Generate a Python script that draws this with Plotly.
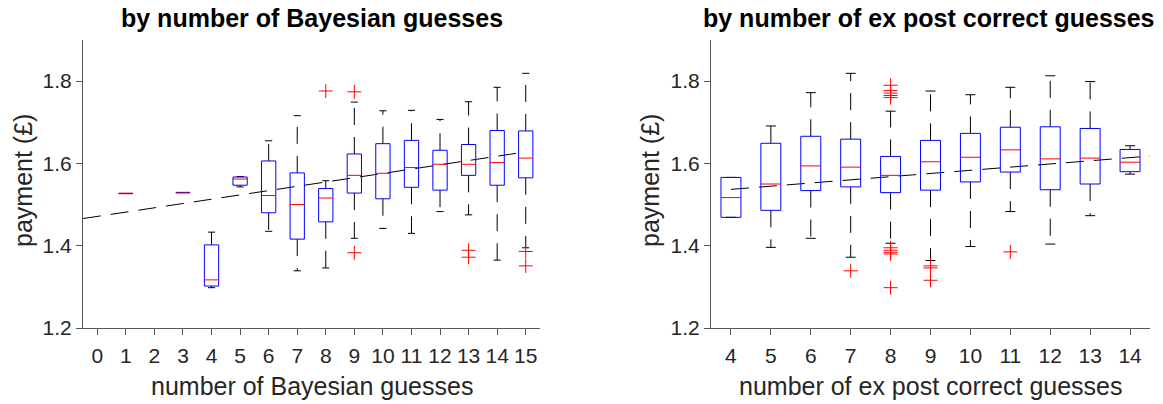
import plotly.graph_objects as go

FONT = "Liberation Sans, Arial, Helvetica, sans-serif"

# ---------------- data: left panel (by number of Bayesian guesses) -------------
bay_x   = [1, 3, 4, 5, 6, 7, 8, 9, 10, 11, 12, 13, 14, 15]
bay_lw  = [1.527, 1.529, 1.298, 1.543, 1.435, 1.339, 1.346, 1.418, 1.442, 1.430, 1.483, 1.475, 1.365, 1.395]
bay_q1  = [1.527, 1.529, 1.302, 1.547, 1.480, 1.416, 1.458, 1.528, 1.514, 1.542, 1.535, 1.571, 1.547, 1.565]
bay_med = [1.527, 1.529, 1.317, 1.562, 1.522, 1.500, 1.516, 1.571, 1.576, 1.590, 1.598, 1.598, 1.602, 1.613]
bay_q3  = [1.527, 1.529, 1.402, 1.567, 1.606, 1.577, 1.539, 1.623, 1.648, 1.656, 1.632, 1.646, 1.680, 1.679]
bay_uw  = [1.527, 1.529, 1.433, 1.568, 1.655, 1.716, 1.558, 1.749, 1.728, 1.729, 1.707, 1.750, 1.785, 1.819]
bay_out_x = [8, 9, 9, 13, 13, 15, 15]
bay_out_y = [1.776, 1.774, 1.383, 1.389, 1.372, 1.386, 1.351]
bay_fit_x = [-0.5, 15]
bay_fit_y = [1.466, 1.628]
bay_ticks = list(range(0, 16))

# ---------------- data: right panel (by number of ex post correct guesses) -----
cor_x   = [4, 5, 6, 7, 8, 9, 10, 11, 12, 13, 14]
cor_lw  = [1.469, 1.396, 1.418, 1.372, 1.406, 1.364, 1.398, 1.483, 1.404, 1.473, 1.574]
cor_q1  = [1.469, 1.486, 1.534, 1.543, 1.529, 1.535, 1.555, 1.579, 1.536, 1.550, 1.580]
cor_med = [1.517, 1.550, 1.594, 1.591, 1.571, 1.604, 1.615, 1.633, 1.611, 1.613, 1.603]
cor_q3  = [1.566, 1.649, 1.666, 1.659, 1.617, 1.656, 1.673, 1.688, 1.689, 1.685, 1.634]
cor_uw  = [1.566, 1.691, 1.772, 1.819, 1.727, 1.776, 1.767, 1.785, 1.813, 1.799, 1.643]
cor_out_x = [7, 8, 8, 8, 8, 8, 8, 8, 8, 8, 8, 9, 9, 9, 11]
cor_out_y = [1.339, 1.790, 1.777, 1.771, 1.765, 1.760, 1.395, 1.389, 1.384, 1.380, 1.298,
             1.351, 1.346, 1.316, 1.385]
cor_fit_x = [4, 14.5]
cor_fit_y = [1.537, 1.618]
cor_ticks = list(range(4, 15))

y_ticks = [1.2, 1.4, 1.6, 1.8]

BOX_HALF = 0.25
CAP_HALF = 0.125
WHISKER_DASH = "17px,12px"
FIT_DASH = "18px,10px"


def add_boxes(fig, xs, lw, q1, med, q3, uw, ox, oy, fx, fy, xa, ya):
    bx, by = [], []
    wx, wy = [], []
    cx, cy = [], []
    mx, my = [], []
    dx, dy = [], []
    for x, a, b, m, c, d in zip(xs, lw, q1, med, q3, uw):
        bx += [x - BOX_HALF, x + BOX_HALF, x + BOX_HALF, x - BOX_HALF, x - BOX_HALF, None]
        by += [b, b, c, c, b, None]
        if d > c:
            wx += [x, x, None]
            wy += [c, d, None]
        if a < b:
            wx += [x, x, None]
            wy += [b, a, None]
        if c > b or d > c or a < b:
            cx += [x - CAP_HALF, x + CAP_HALF, None, x - CAP_HALF, x + CAP_HALF, None]
            cy += [d, d, None, a, a, None]
        if c > b:
            mx += [x - BOX_HALF, x + BOX_HALF, None]
            my += [m, m, None]
        else:
            dx += [x - BOX_HALF, x + BOX_HALF, None]
            dy += [m, m, None]
    common = dict(xaxis=xa, yaxis=ya, mode="lines", showlegend=False, hoverinfo="skip")
    fig.add_trace(go.Scatter(x=fx, y=fy, line=dict(color="black", width=1, dash=FIT_DASH), **common))
    fig.add_trace(go.Scatter(x=wx, y=wy, line=dict(color="black", width=1, dash=WHISKER_DASH), **common))
    fig.add_trace(go.Scatter(x=cx, y=cy, line=dict(color="black", width=1), **common))
    fig.add_trace(go.Scatter(x=bx, y=by, line=dict(color="#0000ff", width=1), **common))
    fig.add_trace(go.Scatter(x=mx, y=my, line=dict(color="#ff0000", width=1), **common))
    if dx:
        fig.add_trace(go.Scatter(x=dx, y=dy, line=dict(color="rgba(255,0,0,0.5)", width=2), **common))
    fig.add_trace(go.Scatter(x=ox, y=oy, xaxis=xa, yaxis=ya, mode="markers", showlegend=False,
                             hoverinfo="skip",
                             marker=dict(symbol="cross-thin", size=10, color="#ff0000",
                                         line=dict(color="#ff0000", width=1))))


fig = go.Figure()
add_boxes(fig, bay_x, bay_lw, bay_q1, bay_med, bay_q3, bay_uw, bay_out_x, bay_out_y,
          bay_fit_x, bay_fit_y, "x", "y")
add_boxes(fig, cor_x, cor_lw, cor_q1, cor_med, cor_q3, cor_uw, cor_out_x, cor_out_y,
          cor_fit_x, cor_fit_y, "x2", "y2")

W, H = 1163, 404


def px(x):
    return x / W


def py(y):
    return 1 - y / H


AX_COLOR = "#555555"
TXT = "#262626"

axis_common = dict(showline=True, linecolor=AX_COLOR, linewidth=1, mirror=False,
                   showgrid=False, zeroline=False, ticks="outside", ticklen=6,
                   tickcolor=AX_COLOR, tickwidth=1, automargin=False,
                   tickfont=dict(family=FONT, size=21, color=TXT))

L1, R1 = px(83), px(540)
L2, R2 = px(711), px(1150)
YB, YT = py(328), py(40)

fig.update_layout(
    width=W, height=H, autosize=False,
    margin=dict(l=0, r=0, t=0, b=0, pad=0),
    paper_bgcolor="white", plot_bgcolor="white",
    font=dict(family=FONT, color=TXT),
    xaxis=dict(domain=[L1, R1], range=[-0.5, 15.5], tickvals=bay_ticks,
               ticktext=[str(t) for t in bay_ticks], anchor="y", ticklabelstandoff=3,
               **axis_common),
    yaxis=dict(domain=[YB, YT], range=[1.2, 1.9], tickvals=y_ticks,
               ticktext=[f"{t:.1f}" for t in y_ticks], anchor="x", **axis_common),
    xaxis2=dict(domain=[L2, R2], range=[3.5, 14.5], tickvals=cor_ticks,
                ticktext=[str(t) for t in cor_ticks], anchor="y2", ticklabelstandoff=3,
                **axis_common),
    yaxis2=dict(domain=[YB, YT], range=[1.2, 1.9], tickvals=y_ticks,
                ticktext=[f"{t:.1f}" for t in y_ticks], anchor="x2", **axis_common),
)

annotations = [
    dict(text="<b>by number of Bayesian guesses</b>", x=(L1 + R1) / 2, y=py(17.5),
         font=dict(size=25, color="black", family=FONT)),
    dict(text="<b>by number of ex post correct guesses</b>", x=px(929), y=py(17.5),
         font=dict(size=25, color="black", family=FONT)),
    dict(text="number of Bayesian guesses", x=(L1 + R1) / 2, y=py(386),
         font=dict(size=25, color=TXT, family=FONT)),
    dict(text="number of ex post correct guesses", x=(L2 + R2) / 2, y=py(386),
         font=dict(size=25, color=TXT, family=FONT)),
    dict(text="payment (£)", x=px(23), y=py(181), textangle=-90,
         font=dict(size=25, color=TXT, family=FONT)),
    dict(text="payment (£)", x=px(650), y=py(181), textangle=-90,
         font=dict(size=25, color=TXT, family=FONT)),
]
for a in annotations:
    a.update(xref="paper", yref="paper", showarrow=False, xanchor="center", yanchor="middle")
fig.update_layout(annotations=annotations)

fig.write_html("out.html",
               config={"displayModeBar": False, "staticPlot": True},
               post_script="document.body.style.margin='0';document.body.style.overflow='hidden';")
